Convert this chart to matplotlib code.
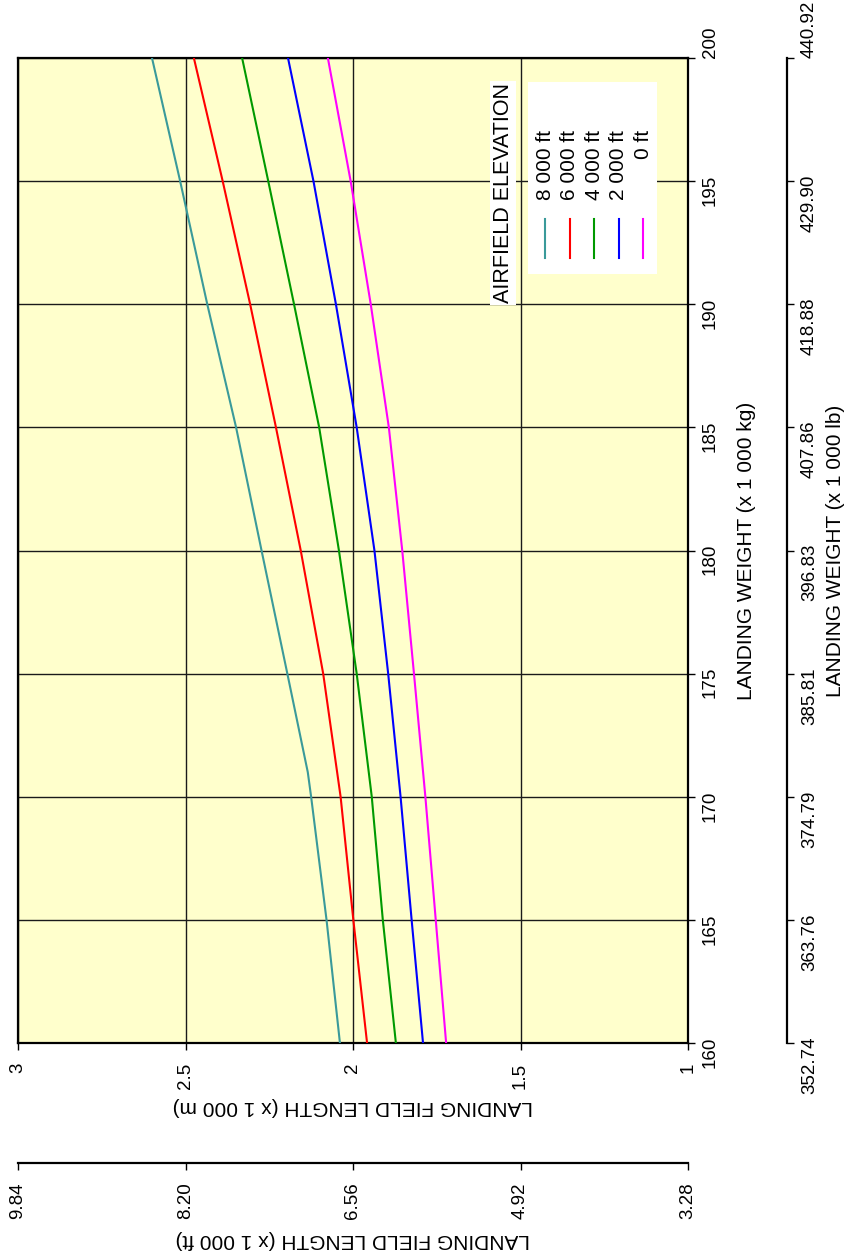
import matplotlib
matplotlib.use('Agg')
import matplotlib.pyplot as plt

# Landing field length chart, drawn turned a quarter turn (weight runs upward)
plt.rcParams['font.family'] = ['Liberation Sans', 'DejaVu Sans']

# --- data ---
weight_kg = [160, 165, 170, 175, 180, 185, 190, 195, 200]
weight_kg_8000 = [160, 165, 170, 171, 175, 180, 185, 190, 195, 200]

len_8000 = [2.039, 2.079, 2.125, 2.135, 2.196, 2.273, 2.349, 2.435, 2.516, 2.600]
len_6000 = [1.958, 1.999, 2.037, 2.089, 2.156, 2.230, 2.307, 2.389, 2.475]
len_4000 = [1.872, 1.911, 1.944, 1.989, 2.042, 2.101, 2.176, 2.253, 2.331]
len_2000 = [1.791, 1.825, 1.858, 1.895, 1.936, 1.989, 2.051, 2.118, 2.194]
len_0 = [1.722, 1.753, 1.784, 1.818, 1.853, 1.893, 1.947, 2.007, 2.075]

elev_labels = ['8 000 ft', '6 000 ft', '4 000 ft', '2 000 ft', '0 ft']
elev_colors = ['#3a9a9a', '#ff0000', '#009900', '#0000ff', '#ff00ff']

m_ticks = [3, 2.5, 2, 1.5, 1]
m_ticklabels = ['3', '2.5', '2', '1.5', '1']
kg_ticks = [160, 165, 170, 175, 180, 185, 190, 195, 200]
lb_ticklabels = ['352.74', '363.76', '374.79', '385.81', '396.83',
                 '407.86', '418.88', '429.90', '440.92']
ft_ticklabels = ['9.84', '8.20', '6.56', '4.92', '3.28']

KG_TO_LB = 2.20462
M_TO_FT = 3.28084
PX = 72 / 100  # points per pixel at 100 dpi

# --- figure ---
W, H = 849, 1256
fig = plt.figure(figsize=(W / 100, H / 100), dpi=100)
x0, x1, y0, y1 = 18, 688, 58, 1043
ax = fig.add_axes([x0 / W, 1 - y1 / H, (x1 - x0) / W, (y1 - y0) / H])
ax.set_facecolor('#ffffcc')
axr = ax.twinx()
axb = ax.twiny()

series = [(weight_kg_8000, len_8000), (weight_kg, len_6000), (weight_kg, len_4000),
          (weight_kg, len_2000), (weight_kg, len_0)]
for (wt, ln), c in zip(series, elev_colors):
    ax.plot(ln, wt, color=c, lw=1.5, zorder=3)

ax.set_xlim(3, 1)
ax.set_ylim(160, 200)
ax.set_xticks(m_ticks)
ax.set_xticklabels(m_ticklabels)
ax.set_yticks(kg_ticks)
ax.set_yticklabels([str(k) for k in kg_ticks])
ax.xaxis.tick_bottom()
ax.yaxis.tick_right()
ax.yaxis.set_label_position('right')
ax.tick_params(direction='out', length=5, width=1, labelsize=13.5, labelrotation=90)
ax.tick_params(axis='x', pad=9)
ax.tick_params(axis='y', pad=5)
ax.grid(True, color='#1a1a1a', lw=1)
for s in ax.spines.values():
    s.set_linewidth(1.6)
ax.set_xlabel('LANDING FIELD LENGTH (x 1 000 m)', fontsize=15, rotation=180, labelpad=6)
ax.set_ylabel('LANDING WEIGHT (x 1 000 kg)', fontsize=15, rotation=90, labelpad=13)
ax.get_yticklabels()[-1].set_va('bottom')

# second weight scale in lb
axr.set_ylim(160 * KG_TO_LB, 200 * KG_TO_LB)
axr.set_yticks([k * KG_TO_LB for k in kg_ticks])
axr.set_yticklabels(lb_ticklabels)
axr.yaxis.tick_right()
axr.spines['right'].set_position(('outward', 99 * PX))
axr.spines['right'].set_linewidth(1.6)
for side in ['top', 'bottom', 'left']:
    axr.spines[side].set_visible(False)
axr.tick_params(direction='out', length=5, width=1, labelsize=13.5, pad=5, labelrotation=90)
axr.set_ylabel('LANDING WEIGHT (x 1 000 lb)', fontsize=15, rotation=90, labelpad=6)
axr.get_yticklabels()[-1].set_va('bottom')

# second length scale in ft
axb.set_xlim(3 * M_TO_FT, 1 * M_TO_FT)
axb.set_xticks([m * M_TO_FT for m in m_ticks])
axb.set_xticklabels(ft_ticklabels)
axb.xaxis.tick_bottom()
axb.xaxis.set_label_position('bottom')
axb.spines['bottom'].set_position(('outward', 120 * PX))
axb.spines['bottom'].set_linewidth(1.6)
for side in ['top', 'right', 'left']:
    axb.spines[side].set_visible(False)
axb.tick_params(direction='out', length=5, width=1, labelsize=13.5, pad=9, labelrotation=90)
axb.set_xlabel('LANDING FIELD LENGTH (x 1 000 ft)', fontsize=15, rotation=180, labelpad=8)

# legend, drawn turned like the chart
tr = ax.transAxes
ax.add_patch(plt.Rectangle((0.761, 0.781), 0.193, 0.195, transform=tr,
                           facecolor='white', edgecolor='none', zorder=4))
ax.text(0.724, 0.863, 'AIRFIELD ELEVATION', transform=tr, rotation=90,
        ha='center', va='center', fontsize=15.5, zorder=5,
        bbox=dict(facecolor='white', edgecolor='none', pad=1.5))
for i, (lab, c) in enumerate(zip(elev_labels, elev_colors)):
    lx = 0.7866 + i * 0.0367
    ax.plot([lx, lx], [0.797, 0.837], transform=tr, color=c, lw=1.5, zorder=5)
    ax.text(lx, 0.927, lab, transform=tr, rotation=90, ha='center', va='top',
            fontsize=15, zorder=5)

fig.savefig('out.png', dpi=100)
